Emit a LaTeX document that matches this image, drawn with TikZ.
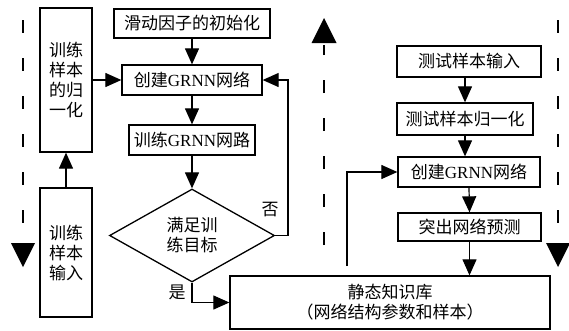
\documentclass[tikz,border=0pt]{standalone}
\usepackage{fontspec}
\setmainfont{Liberation Serif}
\newfontfamily\cjk{Noto Sans CJK SC}
\usetikzlibrary{shapes.geometric,arrows.meta}
\tikzset{
  txt/.style={font=\cjk\fontsize{17}{20}\selectfont, align=center, inner sep=0pt},
  box/.style={txt, draw, line width=1.3pt},
  arr/.style={line width=1.2pt, -{Triangle[length=16pt,width=14pt]}},
  phaseline/.style={line width=1.4pt, dash pattern=on 13pt off 25pt},
  bigtip/.style={fill=black, draw=none}
}
\newcommand{\gr}{{\rmfamily GRNN}}
\begin{document}
\begin{tikzpicture}[x=1pt,y=-1pt]
\useasboundingbox (0,0) rectangle (569,330);
% left column
\node[box, minimum width=52pt, minimum height=144pt] (norm) at (66,80) {训练\\样本\\的归\\一化};
\node[box, minimum width=52pt, minimum height=129pt] (input) at (66,252.5) {训练\\样本\\输入};
% middle column
\node[box, minimum width=156pt, minimum height=29pt] (init) at (192,23.5) {滑动因子的初始化};
\node[box, minimum width=140pt, minimum height=30pt] (createL) at (192,80) {创建\gr 网络};
\node[box, minimum width=126pt, minimum height=30pt] (train) at (192,140) {训练\gr 网路};
\node[txt, draw, line width=1.3pt, shape=diamond, aspect=1.77, minimum width=165pt, minimum height=93pt] (goal) at (192,235.5) {满足训\\练目标};
% bottom
\node[box, minimum width=320pt, minimum height=53pt] (kb) at (390,302.5) {静态知识库\\（网络结构参数和样本）};
% right column
\node[box, minimum width=144pt, minimum height=31pt] (testIn) at (469,61.5) {测试样本输入};
\node[box, minimum width=136pt, minimum height=32pt] (testNorm) at (465,119) {测试样本归一化};
\node[box, minimum width=142pt, minimum height=30pt] (createR) at (469,172) {创建\gr 网络};
\node[box, minimum width=143pt, minimum height=28pt] (pred) at (469.5,227) {突出网络预测};
% labels
\node[txt] (no) at (270,210) {否};
\node[txt] (yes) at (177,292) {是};
% connectors
\draw[arr] (input.north) -- (norm.south);
\draw[arr] (norm.east) -- (createL.west);
\draw[arr] (init.south) -- (createL.north);
\draw[arr] (createL.south) -- (train.north);
\draw[arr] (train.south) -- (goal.north);
\draw[arr] (goal.east) -- (288,235.5) |- (createL.east);
\draw[arr] (goal.south) |- (kb.west);
\draw[arr] (testIn.south -| testNorm) -- (testNorm.north);
\draw[arr] (testNorm.south) -- (testNorm.south |- createR.north);
\draw[arr] (createR.south) -- (pred.north);
\draw[arr] (pred.south) -- (pred.south |- kb.north);
\coordinate (kbout) at (347,266);
\draw[arr] (kbout) |- (createR.west);
% dashed phase lines
\coordinate (l1) at (23,20);
\coordinate (l2) at (23,232);
\draw[phaseline] (l1) -- (l2);
\fill[bigtip] (11,243) -- (35,243) -- (23,267) -- cycle;
\coordinate (m1) at (324,245);
\coordinate (m2) at (324,45);
\draw[phaseline] (m1) -- (m2);
\fill[bigtip] (311.5,43) -- (336.5,43) -- (324,18) -- cycle;
\coordinate (r1) at (558,20);
\coordinate (r2) at (558,230);
\draw[phaseline] (r1) -- (r2);
\fill[bigtip] (546,243) -- (570,243) -- (558,267) -- cycle;
\end{tikzpicture}
\end{document}
